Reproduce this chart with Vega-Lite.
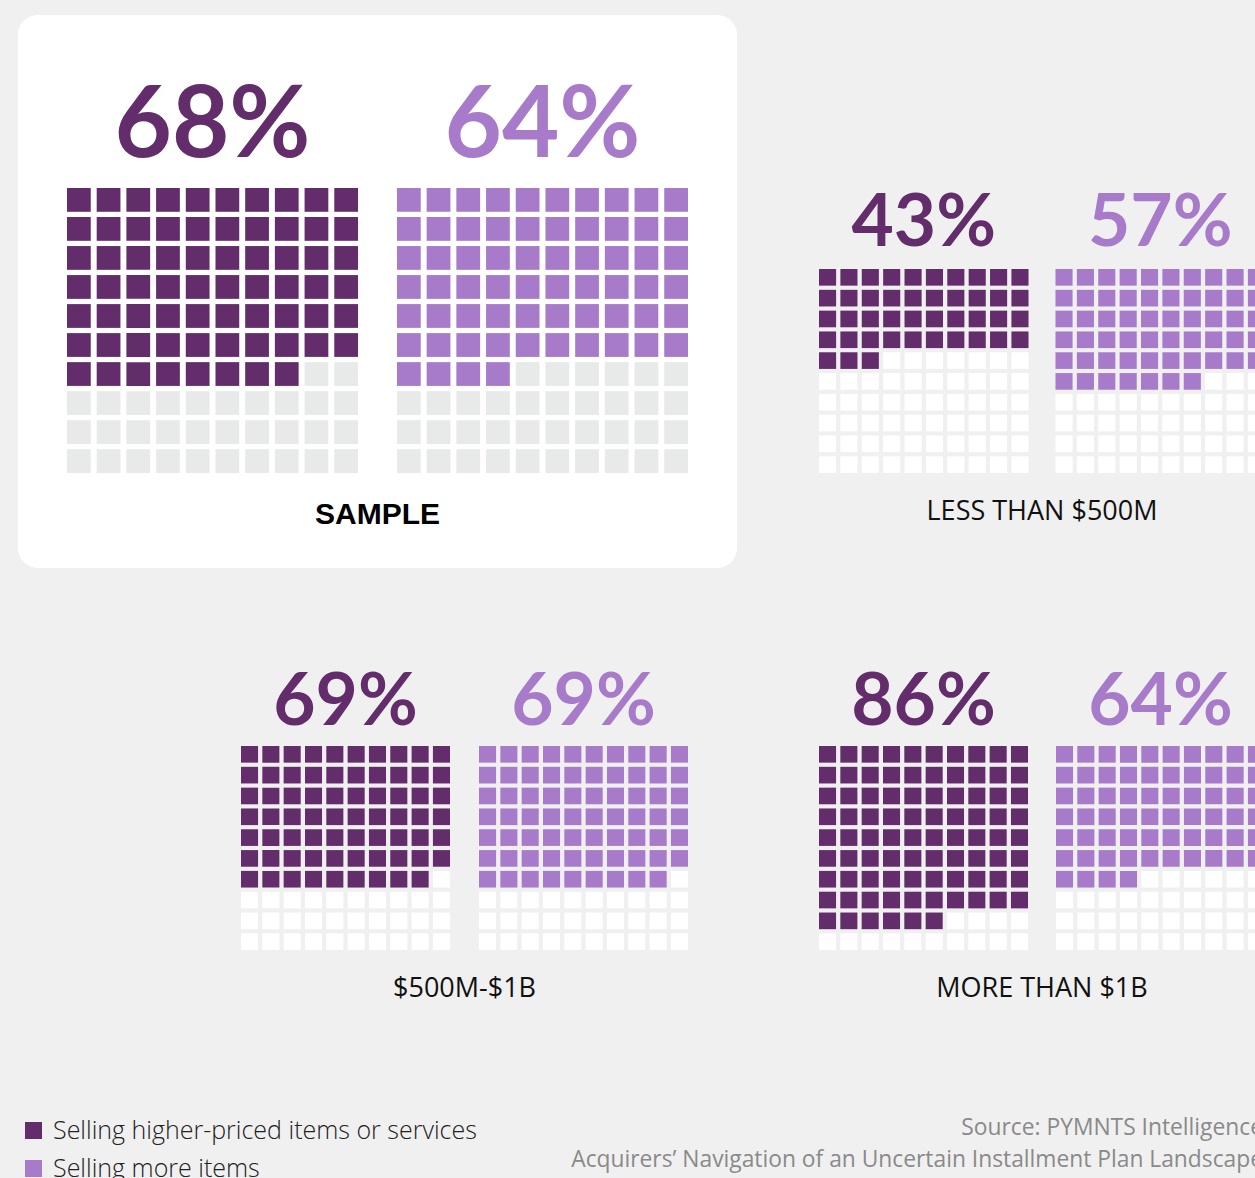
{
"$schema":"https://vega.github.io/schema/vega-lite/v6.json",
"background":"#f0f0f0",
"padding":{"left":18,"top":15,"right":-32,"bottom":-30},
"config":{"view":{"stroke":null}},
"datasets":{
"A":[
{"s":"h","r":0,"c":0,"f":1},{"s":"h","r":0,"c":1,"f":1},{"s":"h","r":0,"c":2,"f":1},{"s":"h","r":0,"c":3,"f":1},{"s":"h","r":0,"c":4,"f":1},{"s":"h","r":0,"c":5,"f":1},{"s":"h","r":0,"c":6,"f":1},{"s":"h","r":0,"c":7,"f":1},{"s":"h","r":0,"c":8,"f":1},{"s":"h","r":0,"c":9,"f":1},
{"s":"h","r":1,"c":0,"f":1},{"s":"h","r":1,"c":1,"f":1},{"s":"h","r":1,"c":2,"f":1},{"s":"h","r":1,"c":3,"f":1},{"s":"h","r":1,"c":4,"f":1},{"s":"h","r":1,"c":5,"f":1},{"s":"h","r":1,"c":6,"f":1},{"s":"h","r":1,"c":7,"f":1},{"s":"h","r":1,"c":8,"f":1},{"s":"h","r":1,"c":9,"f":1},
{"s":"h","r":2,"c":0,"f":1},{"s":"h","r":2,"c":1,"f":1},{"s":"h","r":2,"c":2,"f":1},{"s":"h","r":2,"c":3,"f":1},{"s":"h","r":2,"c":4,"f":1},{"s":"h","r":2,"c":5,"f":1},{"s":"h","r":2,"c":6,"f":1},{"s":"h","r":2,"c":7,"f":1},{"s":"h","r":2,"c":8,"f":1},{"s":"h","r":2,"c":9,"f":1},
{"s":"h","r":3,"c":0,"f":1},{"s":"h","r":3,"c":1,"f":1},{"s":"h","r":3,"c":2,"f":1},{"s":"h","r":3,"c":3,"f":1},{"s":"h","r":3,"c":4,"f":1},{"s":"h","r":3,"c":5,"f":1},{"s":"h","r":3,"c":6,"f":1},{"s":"h","r":3,"c":7,"f":1},{"s":"h","r":3,"c":8,"f":1},{"s":"h","r":3,"c":9,"f":1},
{"s":"h","r":4,"c":0,"f":1},{"s":"h","r":4,"c":1,"f":1},{"s":"h","r":4,"c":2,"f":1},{"s":"h","r":4,"c":3,"f":1},{"s":"h","r":4,"c":4,"f":1},{"s":"h","r":4,"c":5,"f":1},{"s":"h","r":4,"c":6,"f":1},{"s":"h","r":4,"c":7,"f":1},{"s":"h","r":4,"c":8,"f":1},{"s":"h","r":4,"c":9,"f":1},
{"s":"h","r":5,"c":0,"f":1},{"s":"h","r":5,"c":1,"f":1},{"s":"h","r":5,"c":2,"f":1},{"s":"h","r":5,"c":3,"f":1},{"s":"h","r":5,"c":4,"f":1},{"s":"h","r":5,"c":5,"f":1},{"s":"h","r":5,"c":6,"f":1},{"s":"h","r":5,"c":7,"f":1},{"s":"h","r":5,"c":8,"f":1},{"s":"h","r":5,"c":9,"f":1},
{"s":"h","r":6,"c":0,"f":1},{"s":"h","r":6,"c":1,"f":1},{"s":"h","r":6,"c":2,"f":1},{"s":"h","r":6,"c":3,"f":1},{"s":"h","r":6,"c":4,"f":1},{"s":"h","r":6,"c":5,"f":1},{"s":"h","r":6,"c":6,"f":1},{"s":"h","r":6,"c":7,"f":1},{"s":"h","r":6,"c":8,"f":0},{"s":"h","r":6,"c":9,"f":0},
{"s":"h","r":7,"c":0,"f":0},{"s":"h","r":7,"c":1,"f":0},{"s":"h","r":7,"c":2,"f":0},{"s":"h","r":7,"c":3,"f":0},{"s":"h","r":7,"c":4,"f":0},{"s":"h","r":7,"c":5,"f":0},{"s":"h","r":7,"c":6,"f":0},{"s":"h","r":7,"c":7,"f":0},{"s":"h","r":7,"c":8,"f":0},{"s":"h","r":7,"c":9,"f":0},
{"s":"h","r":8,"c":0,"f":0},{"s":"h","r":8,"c":1,"f":0},{"s":"h","r":8,"c":2,"f":0},{"s":"h","r":8,"c":3,"f":0},{"s":"h","r":8,"c":4,"f":0},{"s":"h","r":8,"c":5,"f":0},{"s":"h","r":8,"c":6,"f":0},{"s":"h","r":8,"c":7,"f":0},{"s":"h","r":8,"c":8,"f":0},{"s":"h","r":8,"c":9,"f":0},
{"s":"h","r":9,"c":0,"f":0},{"s":"h","r":9,"c":1,"f":0},{"s":"h","r":9,"c":2,"f":0},{"s":"h","r":9,"c":3,"f":0},{"s":"h","r":9,"c":4,"f":0},{"s":"h","r":9,"c":5,"f":0},{"s":"h","r":9,"c":6,"f":0},{"s":"h","r":9,"c":7,"f":0},{"s":"h","r":9,"c":8,"f":0},{"s":"h","r":9,"c":9,"f":0},
{"s":"m","r":0,"c":0,"f":1},{"s":"m","r":0,"c":1,"f":1},{"s":"m","r":0,"c":2,"f":1},{"s":"m","r":0,"c":3,"f":1},{"s":"m","r":0,"c":4,"f":1},{"s":"m","r":0,"c":5,"f":1},{"s":"m","r":0,"c":6,"f":1},{"s":"m","r":0,"c":7,"f":1},{"s":"m","r":0,"c":8,"f":1},{"s":"m","r":0,"c":9,"f":1},
{"s":"m","r":1,"c":0,"f":1},{"s":"m","r":1,"c":1,"f":1},{"s":"m","r":1,"c":2,"f":1},{"s":"m","r":1,"c":3,"f":1},{"s":"m","r":1,"c":4,"f":1},{"s":"m","r":1,"c":5,"f":1},{"s":"m","r":1,"c":6,"f":1},{"s":"m","r":1,"c":7,"f":1},{"s":"m","r":1,"c":8,"f":1},{"s":"m","r":1,"c":9,"f":1},
{"s":"m","r":2,"c":0,"f":1},{"s":"m","r":2,"c":1,"f":1},{"s":"m","r":2,"c":2,"f":1},{"s":"m","r":2,"c":3,"f":1},{"s":"m","r":2,"c":4,"f":1},{"s":"m","r":2,"c":5,"f":1},{"s":"m","r":2,"c":6,"f":1},{"s":"m","r":2,"c":7,"f":1},{"s":"m","r":2,"c":8,"f":1},{"s":"m","r":2,"c":9,"f":1},
{"s":"m","r":3,"c":0,"f":1},{"s":"m","r":3,"c":1,"f":1},{"s":"m","r":3,"c":2,"f":1},{"s":"m","r":3,"c":3,"f":1},{"s":"m","r":3,"c":4,"f":1},{"s":"m","r":3,"c":5,"f":1},{"s":"m","r":3,"c":6,"f":1},{"s":"m","r":3,"c":7,"f":1},{"s":"m","r":3,"c":8,"f":1},{"s":"m","r":3,"c":9,"f":1},
{"s":"m","r":4,"c":0,"f":1},{"s":"m","r":4,"c":1,"f":1},{"s":"m","r":4,"c":2,"f":1},{"s":"m","r":4,"c":3,"f":1},{"s":"m","r":4,"c":4,"f":1},{"s":"m","r":4,"c":5,"f":1},{"s":"m","r":4,"c":6,"f":1},{"s":"m","r":4,"c":7,"f":1},{"s":"m","r":4,"c":8,"f":1},{"s":"m","r":4,"c":9,"f":1},
{"s":"m","r":5,"c":0,"f":1},{"s":"m","r":5,"c":1,"f":1},{"s":"m","r":5,"c":2,"f":1},{"s":"m","r":5,"c":3,"f":1},{"s":"m","r":5,"c":4,"f":1},{"s":"m","r":5,"c":5,"f":1},{"s":"m","r":5,"c":6,"f":1},{"s":"m","r":5,"c":7,"f":1},{"s":"m","r":5,"c":8,"f":1},{"s":"m","r":5,"c":9,"f":1},
{"s":"m","r":6,"c":0,"f":1},{"s":"m","r":6,"c":1,"f":1},{"s":"m","r":6,"c":2,"f":1},{"s":"m","r":6,"c":3,"f":1},{"s":"m","r":6,"c":4,"f":0},{"s":"m","r":6,"c":5,"f":0},{"s":"m","r":6,"c":6,"f":0},{"s":"m","r":6,"c":7,"f":0},{"s":"m","r":6,"c":8,"f":0},{"s":"m","r":6,"c":9,"f":0},
{"s":"m","r":7,"c":0,"f":0},{"s":"m","r":7,"c":1,"f":0},{"s":"m","r":7,"c":2,"f":0},{"s":"m","r":7,"c":3,"f":0},{"s":"m","r":7,"c":4,"f":0},{"s":"m","r":7,"c":5,"f":0},{"s":"m","r":7,"c":6,"f":0},{"s":"m","r":7,"c":7,"f":0},{"s":"m","r":7,"c":8,"f":0},{"s":"m","r":7,"c":9,"f":0},
{"s":"m","r":8,"c":0,"f":0},{"s":"m","r":8,"c":1,"f":0},{"s":"m","r":8,"c":2,"f":0},{"s":"m","r":8,"c":3,"f":0},{"s":"m","r":8,"c":4,"f":0},{"s":"m","r":8,"c":5,"f":0},{"s":"m","r":8,"c":6,"f":0},{"s":"m","r":8,"c":7,"f":0},{"s":"m","r":8,"c":8,"f":0},{"s":"m","r":8,"c":9,"f":0},
{"s":"m","r":9,"c":0,"f":0},{"s":"m","r":9,"c":1,"f":0},{"s":"m","r":9,"c":2,"f":0},{"s":"m","r":9,"c":3,"f":0},{"s":"m","r":9,"c":4,"f":0},{"s":"m","r":9,"c":5,"f":0},{"s":"m","r":9,"c":6,"f":0},{"s":"m","r":9,"c":7,"f":0},{"s":"m","r":9,"c":8,"f":0},{"s":"m","r":9,"c":9,"f":0}
],
"B":[
{"s":"h","r":0,"c":0,"f":1},{"s":"h","r":0,"c":1,"f":1},{"s":"h","r":0,"c":2,"f":1},{"s":"h","r":0,"c":3,"f":1},{"s":"h","r":0,"c":4,"f":1},{"s":"h","r":0,"c":5,"f":1},{"s":"h","r":0,"c":6,"f":1},{"s":"h","r":0,"c":7,"f":1},{"s":"h","r":0,"c":8,"f":1},{"s":"h","r":0,"c":9,"f":1},
{"s":"h","r":1,"c":0,"f":1},{"s":"h","r":1,"c":1,"f":1},{"s":"h","r":1,"c":2,"f":1},{"s":"h","r":1,"c":3,"f":1},{"s":"h","r":1,"c":4,"f":1},{"s":"h","r":1,"c":5,"f":1},{"s":"h","r":1,"c":6,"f":1},{"s":"h","r":1,"c":7,"f":1},{"s":"h","r":1,"c":8,"f":1},{"s":"h","r":1,"c":9,"f":1},
{"s":"h","r":2,"c":0,"f":1},{"s":"h","r":2,"c":1,"f":1},{"s":"h","r":2,"c":2,"f":1},{"s":"h","r":2,"c":3,"f":1},{"s":"h","r":2,"c":4,"f":1},{"s":"h","r":2,"c":5,"f":1},{"s":"h","r":2,"c":6,"f":1},{"s":"h","r":2,"c":7,"f":1},{"s":"h","r":2,"c":8,"f":1},{"s":"h","r":2,"c":9,"f":1},
{"s":"h","r":3,"c":0,"f":1},{"s":"h","r":3,"c":1,"f":1},{"s":"h","r":3,"c":2,"f":1},{"s":"h","r":3,"c":3,"f":1},{"s":"h","r":3,"c":4,"f":1},{"s":"h","r":3,"c":5,"f":1},{"s":"h","r":3,"c":6,"f":1},{"s":"h","r":3,"c":7,"f":1},{"s":"h","r":3,"c":8,"f":1},{"s":"h","r":3,"c":9,"f":1},
{"s":"h","r":4,"c":0,"f":1},{"s":"h","r":4,"c":1,"f":1},{"s":"h","r":4,"c":2,"f":1},{"s":"h","r":4,"c":3,"f":0},{"s":"h","r":4,"c":4,"f":0},{"s":"h","r":4,"c":5,"f":0},{"s":"h","r":4,"c":6,"f":0},{"s":"h","r":4,"c":7,"f":0},{"s":"h","r":4,"c":8,"f":0},{"s":"h","r":4,"c":9,"f":0},
{"s":"h","r":5,"c":0,"f":0},{"s":"h","r":5,"c":1,"f":0},{"s":"h","r":5,"c":2,"f":0},{"s":"h","r":5,"c":3,"f":0},{"s":"h","r":5,"c":4,"f":0},{"s":"h","r":5,"c":5,"f":0},{"s":"h","r":5,"c":6,"f":0},{"s":"h","r":5,"c":7,"f":0},{"s":"h","r":5,"c":8,"f":0},{"s":"h","r":5,"c":9,"f":0},
{"s":"h","r":6,"c":0,"f":0},{"s":"h","r":6,"c":1,"f":0},{"s":"h","r":6,"c":2,"f":0},{"s":"h","r":6,"c":3,"f":0},{"s":"h","r":6,"c":4,"f":0},{"s":"h","r":6,"c":5,"f":0},{"s":"h","r":6,"c":6,"f":0},{"s":"h","r":6,"c":7,"f":0},{"s":"h","r":6,"c":8,"f":0},{"s":"h","r":6,"c":9,"f":0},
{"s":"h","r":7,"c":0,"f":0},{"s":"h","r":7,"c":1,"f":0},{"s":"h","r":7,"c":2,"f":0},{"s":"h","r":7,"c":3,"f":0},{"s":"h","r":7,"c":4,"f":0},{"s":"h","r":7,"c":5,"f":0},{"s":"h","r":7,"c":6,"f":0},{"s":"h","r":7,"c":7,"f":0},{"s":"h","r":7,"c":8,"f":0},{"s":"h","r":7,"c":9,"f":0},
{"s":"h","r":8,"c":0,"f":0},{"s":"h","r":8,"c":1,"f":0},{"s":"h","r":8,"c":2,"f":0},{"s":"h","r":8,"c":3,"f":0},{"s":"h","r":8,"c":4,"f":0},{"s":"h","r":8,"c":5,"f":0},{"s":"h","r":8,"c":6,"f":0},{"s":"h","r":8,"c":7,"f":0},{"s":"h","r":8,"c":8,"f":0},{"s":"h","r":8,"c":9,"f":0},
{"s":"h","r":9,"c":0,"f":0},{"s":"h","r":9,"c":1,"f":0},{"s":"h","r":9,"c":2,"f":0},{"s":"h","r":9,"c":3,"f":0},{"s":"h","r":9,"c":4,"f":0},{"s":"h","r":9,"c":5,"f":0},{"s":"h","r":9,"c":6,"f":0},{"s":"h","r":9,"c":7,"f":0},{"s":"h","r":9,"c":8,"f":0},{"s":"h","r":9,"c":9,"f":0},
{"s":"m","r":0,"c":0,"f":1},{"s":"m","r":0,"c":1,"f":1},{"s":"m","r":0,"c":2,"f":1},{"s":"m","r":0,"c":3,"f":1},{"s":"m","r":0,"c":4,"f":1},{"s":"m","r":0,"c":5,"f":1},{"s":"m","r":0,"c":6,"f":1},{"s":"m","r":0,"c":7,"f":1},{"s":"m","r":0,"c":8,"f":1},{"s":"m","r":0,"c":9,"f":1},
{"s":"m","r":1,"c":0,"f":1},{"s":"m","r":1,"c":1,"f":1},{"s":"m","r":1,"c":2,"f":1},{"s":"m","r":1,"c":3,"f":1},{"s":"m","r":1,"c":4,"f":1},{"s":"m","r":1,"c":5,"f":1},{"s":"m","r":1,"c":6,"f":1},{"s":"m","r":1,"c":7,"f":1},{"s":"m","r":1,"c":8,"f":1},{"s":"m","r":1,"c":9,"f":1},
{"s":"m","r":2,"c":0,"f":1},{"s":"m","r":2,"c":1,"f":1},{"s":"m","r":2,"c":2,"f":1},{"s":"m","r":2,"c":3,"f":1},{"s":"m","r":2,"c":4,"f":1},{"s":"m","r":2,"c":5,"f":1},{"s":"m","r":2,"c":6,"f":1},{"s":"m","r":2,"c":7,"f":1},{"s":"m","r":2,"c":8,"f":1},{"s":"m","r":2,"c":9,"f":1},
{"s":"m","r":3,"c":0,"f":1},{"s":"m","r":3,"c":1,"f":1},{"s":"m","r":3,"c":2,"f":1},{"s":"m","r":3,"c":3,"f":1},{"s":"m","r":3,"c":4,"f":1},{"s":"m","r":3,"c":5,"f":1},{"s":"m","r":3,"c":6,"f":1},{"s":"m","r":3,"c":7,"f":1},{"s":"m","r":3,"c":8,"f":1},{"s":"m","r":3,"c":9,"f":1},
{"s":"m","r":4,"c":0,"f":1},{"s":"m","r":4,"c":1,"f":1},{"s":"m","r":4,"c":2,"f":1},{"s":"m","r":4,"c":3,"f":1},{"s":"m","r":4,"c":4,"f":1},{"s":"m","r":4,"c":5,"f":1},{"s":"m","r":4,"c":6,"f":1},{"s":"m","r":4,"c":7,"f":1},{"s":"m","r":4,"c":8,"f":1},{"s":"m","r":4,"c":9,"f":1},
{"s":"m","r":5,"c":0,"f":1},{"s":"m","r":5,"c":1,"f":1},{"s":"m","r":5,"c":2,"f":1},{"s":"m","r":5,"c":3,"f":1},{"s":"m","r":5,"c":4,"f":1},{"s":"m","r":5,"c":5,"f":1},{"s":"m","r":5,"c":6,"f":1},{"s":"m","r":5,"c":7,"f":0},{"s":"m","r":5,"c":8,"f":0},{"s":"m","r":5,"c":9,"f":0},
{"s":"m","r":6,"c":0,"f":0},{"s":"m","r":6,"c":1,"f":0},{"s":"m","r":6,"c":2,"f":0},{"s":"m","r":6,"c":3,"f":0},{"s":"m","r":6,"c":4,"f":0},{"s":"m","r":6,"c":5,"f":0},{"s":"m","r":6,"c":6,"f":0},{"s":"m","r":6,"c":7,"f":0},{"s":"m","r":6,"c":8,"f":0},{"s":"m","r":6,"c":9,"f":0},
{"s":"m","r":7,"c":0,"f":0},{"s":"m","r":7,"c":1,"f":0},{"s":"m","r":7,"c":2,"f":0},{"s":"m","r":7,"c":3,"f":0},{"s":"m","r":7,"c":4,"f":0},{"s":"m","r":7,"c":5,"f":0},{"s":"m","r":7,"c":6,"f":0},{"s":"m","r":7,"c":7,"f":0},{"s":"m","r":7,"c":8,"f":0},{"s":"m","r":7,"c":9,"f":0},
{"s":"m","r":8,"c":0,"f":0},{"s":"m","r":8,"c":1,"f":0},{"s":"m","r":8,"c":2,"f":0},{"s":"m","r":8,"c":3,"f":0},{"s":"m","r":8,"c":4,"f":0},{"s":"m","r":8,"c":5,"f":0},{"s":"m","r":8,"c":6,"f":0},{"s":"m","r":8,"c":7,"f":0},{"s":"m","r":8,"c":8,"f":0},{"s":"m","r":8,"c":9,"f":0},
{"s":"m","r":9,"c":0,"f":0},{"s":"m","r":9,"c":1,"f":0},{"s":"m","r":9,"c":2,"f":0},{"s":"m","r":9,"c":3,"f":0},{"s":"m","r":9,"c":4,"f":0},{"s":"m","r":9,"c":5,"f":0},{"s":"m","r":9,"c":6,"f":0},{"s":"m","r":9,"c":7,"f":0},{"s":"m","r":9,"c":8,"f":0},{"s":"m","r":9,"c":9,"f":0}
],
"C":[
{"s":"h","r":0,"c":0,"f":1},{"s":"h","r":0,"c":1,"f":1},{"s":"h","r":0,"c":2,"f":1},{"s":"h","r":0,"c":3,"f":1},{"s":"h","r":0,"c":4,"f":1},{"s":"h","r":0,"c":5,"f":1},{"s":"h","r":0,"c":6,"f":1},{"s":"h","r":0,"c":7,"f":1},{"s":"h","r":0,"c":8,"f":1},{"s":"h","r":0,"c":9,"f":1},
{"s":"h","r":1,"c":0,"f":1},{"s":"h","r":1,"c":1,"f":1},{"s":"h","r":1,"c":2,"f":1},{"s":"h","r":1,"c":3,"f":1},{"s":"h","r":1,"c":4,"f":1},{"s":"h","r":1,"c":5,"f":1},{"s":"h","r":1,"c":6,"f":1},{"s":"h","r":1,"c":7,"f":1},{"s":"h","r":1,"c":8,"f":1},{"s":"h","r":1,"c":9,"f":1},
{"s":"h","r":2,"c":0,"f":1},{"s":"h","r":2,"c":1,"f":1},{"s":"h","r":2,"c":2,"f":1},{"s":"h","r":2,"c":3,"f":1},{"s":"h","r":2,"c":4,"f":1},{"s":"h","r":2,"c":5,"f":1},{"s":"h","r":2,"c":6,"f":1},{"s":"h","r":2,"c":7,"f":1},{"s":"h","r":2,"c":8,"f":1},{"s":"h","r":2,"c":9,"f":1},
{"s":"h","r":3,"c":0,"f":1},{"s":"h","r":3,"c":1,"f":1},{"s":"h","r":3,"c":2,"f":1},{"s":"h","r":3,"c":3,"f":1},{"s":"h","r":3,"c":4,"f":1},{"s":"h","r":3,"c":5,"f":1},{"s":"h","r":3,"c":6,"f":1},{"s":"h","r":3,"c":7,"f":1},{"s":"h","r":3,"c":8,"f":1},{"s":"h","r":3,"c":9,"f":1},
{"s":"h","r":4,"c":0,"f":1},{"s":"h","r":4,"c":1,"f":1},{"s":"h","r":4,"c":2,"f":1},{"s":"h","r":4,"c":3,"f":1},{"s":"h","r":4,"c":4,"f":1},{"s":"h","r":4,"c":5,"f":1},{"s":"h","r":4,"c":6,"f":1},{"s":"h","r":4,"c":7,"f":1},{"s":"h","r":4,"c":8,"f":1},{"s":"h","r":4,"c":9,"f":1},
{"s":"h","r":5,"c":0,"f":1},{"s":"h","r":5,"c":1,"f":1},{"s":"h","r":5,"c":2,"f":1},{"s":"h","r":5,"c":3,"f":1},{"s":"h","r":5,"c":4,"f":1},{"s":"h","r":5,"c":5,"f":1},{"s":"h","r":5,"c":6,"f":1},{"s":"h","r":5,"c":7,"f":1},{"s":"h","r":5,"c":8,"f":1},{"s":"h","r":5,"c":9,"f":1},
{"s":"h","r":6,"c":0,"f":1},{"s":"h","r":6,"c":1,"f":1},{"s":"h","r":6,"c":2,"f":1},{"s":"h","r":6,"c":3,"f":1},{"s":"h","r":6,"c":4,"f":1},{"s":"h","r":6,"c":5,"f":1},{"s":"h","r":6,"c":6,"f":1},{"s":"h","r":6,"c":7,"f":1},{"s":"h","r":6,"c":8,"f":1},{"s":"h","r":6,"c":9,"f":0},
{"s":"h","r":7,"c":0,"f":0},{"s":"h","r":7,"c":1,"f":0},{"s":"h","r":7,"c":2,"f":0},{"s":"h","r":7,"c":3,"f":0},{"s":"h","r":7,"c":4,"f":0},{"s":"h","r":7,"c":5,"f":0},{"s":"h","r":7,"c":6,"f":0},{"s":"h","r":7,"c":7,"f":0},{"s":"h","r":7,"c":8,"f":0},{"s":"h","r":7,"c":9,"f":0},
{"s":"h","r":8,"c":0,"f":0},{"s":"h","r":8,"c":1,"f":0},{"s":"h","r":8,"c":2,"f":0},{"s":"h","r":8,"c":3,"f":0},{"s":"h","r":8,"c":4,"f":0},{"s":"h","r":8,"c":5,"f":0},{"s":"h","r":8,"c":6,"f":0},{"s":"h","r":8,"c":7,"f":0},{"s":"h","r":8,"c":8,"f":0},{"s":"h","r":8,"c":9,"f":0},
{"s":"h","r":9,"c":0,"f":0},{"s":"h","r":9,"c":1,"f":0},{"s":"h","r":9,"c":2,"f":0},{"s":"h","r":9,"c":3,"f":0},{"s":"h","r":9,"c":4,"f":0},{"s":"h","r":9,"c":5,"f":0},{"s":"h","r":9,"c":6,"f":0},{"s":"h","r":9,"c":7,"f":0},{"s":"h","r":9,"c":8,"f":0},{"s":"h","r":9,"c":9,"f":0},
{"s":"m","r":0,"c":0,"f":1},{"s":"m","r":0,"c":1,"f":1},{"s":"m","r":0,"c":2,"f":1},{"s":"m","r":0,"c":3,"f":1},{"s":"m","r":0,"c":4,"f":1},{"s":"m","r":0,"c":5,"f":1},{"s":"m","r":0,"c":6,"f":1},{"s":"m","r":0,"c":7,"f":1},{"s":"m","r":0,"c":8,"f":1},{"s":"m","r":0,"c":9,"f":1},
{"s":"m","r":1,"c":0,"f":1},{"s":"m","r":1,"c":1,"f":1},{"s":"m","r":1,"c":2,"f":1},{"s":"m","r":1,"c":3,"f":1},{"s":"m","r":1,"c":4,"f":1},{"s":"m","r":1,"c":5,"f":1},{"s":"m","r":1,"c":6,"f":1},{"s":"m","r":1,"c":7,"f":1},{"s":"m","r":1,"c":8,"f":1},{"s":"m","r":1,"c":9,"f":1},
{"s":"m","r":2,"c":0,"f":1},{"s":"m","r":2,"c":1,"f":1},{"s":"m","r":2,"c":2,"f":1},{"s":"m","r":2,"c":3,"f":1},{"s":"m","r":2,"c":4,"f":1},{"s":"m","r":2,"c":5,"f":1},{"s":"m","r":2,"c":6,"f":1},{"s":"m","r":2,"c":7,"f":1},{"s":"m","r":2,"c":8,"f":1},{"s":"m","r":2,"c":9,"f":1},
{"s":"m","r":3,"c":0,"f":1},{"s":"m","r":3,"c":1,"f":1},{"s":"m","r":3,"c":2,"f":1},{"s":"m","r":3,"c":3,"f":1},{"s":"m","r":3,"c":4,"f":1},{"s":"m","r":3,"c":5,"f":1},{"s":"m","r":3,"c":6,"f":1},{"s":"m","r":3,"c":7,"f":1},{"s":"m","r":3,"c":8,"f":1},{"s":"m","r":3,"c":9,"f":1},
{"s":"m","r":4,"c":0,"f":1},{"s":"m","r":4,"c":1,"f":1},{"s":"m","r":4,"c":2,"f":1},{"s":"m","r":4,"c":3,"f":1},{"s":"m","r":4,"c":4,"f":1},{"s":"m","r":4,"c":5,"f":1},{"s":"m","r":4,"c":6,"f":1},{"s":"m","r":4,"c":7,"f":1},{"s":"m","r":4,"c":8,"f":1},{"s":"m","r":4,"c":9,"f":1},
{"s":"m","r":5,"c":0,"f":1},{"s":"m","r":5,"c":1,"f":1},{"s":"m","r":5,"c":2,"f":1},{"s":"m","r":5,"c":3,"f":1},{"s":"m","r":5,"c":4,"f":1},{"s":"m","r":5,"c":5,"f":1},{"s":"m","r":5,"c":6,"f":1},{"s":"m","r":5,"c":7,"f":1},{"s":"m","r":5,"c":8,"f":1},{"s":"m","r":5,"c":9,"f":1},
{"s":"m","r":6,"c":0,"f":1},{"s":"m","r":6,"c":1,"f":1},{"s":"m","r":6,"c":2,"f":1},{"s":"m","r":6,"c":3,"f":1},{"s":"m","r":6,"c":4,"f":1},{"s":"m","r":6,"c":5,"f":1},{"s":"m","r":6,"c":6,"f":1},{"s":"m","r":6,"c":7,"f":1},{"s":"m","r":6,"c":8,"f":1},{"s":"m","r":6,"c":9,"f":0},
{"s":"m","r":7,"c":0,"f":0},{"s":"m","r":7,"c":1,"f":0},{"s":"m","r":7,"c":2,"f":0},{"s":"m","r":7,"c":3,"f":0},{"s":"m","r":7,"c":4,"f":0},{"s":"m","r":7,"c":5,"f":0},{"s":"m","r":7,"c":6,"f":0},{"s":"m","r":7,"c":7,"f":0},{"s":"m","r":7,"c":8,"f":0},{"s":"m","r":7,"c":9,"f":0},
{"s":"m","r":8,"c":0,"f":0},{"s":"m","r":8,"c":1,"f":0},{"s":"m","r":8,"c":2,"f":0},{"s":"m","r":8,"c":3,"f":0},{"s":"m","r":8,"c":4,"f":0},{"s":"m","r":8,"c":5,"f":0},{"s":"m","r":8,"c":6,"f":0},{"s":"m","r":8,"c":7,"f":0},{"s":"m","r":8,"c":8,"f":0},{"s":"m","r":8,"c":9,"f":0},
{"s":"m","r":9,"c":0,"f":0},{"s":"m","r":9,"c":1,"f":0},{"s":"m","r":9,"c":2,"f":0},{"s":"m","r":9,"c":3,"f":0},{"s":"m","r":9,"c":4,"f":0},{"s":"m","r":9,"c":5,"f":0},{"s":"m","r":9,"c":6,"f":0},{"s":"m","r":9,"c":7,"f":0},{"s":"m","r":9,"c":8,"f":0},{"s":"m","r":9,"c":9,"f":0}
],
"D":[
{"s":"h","r":0,"c":0,"f":1},{"s":"h","r":0,"c":1,"f":1},{"s":"h","r":0,"c":2,"f":1},{"s":"h","r":0,"c":3,"f":1},{"s":"h","r":0,"c":4,"f":1},{"s":"h","r":0,"c":5,"f":1},{"s":"h","r":0,"c":6,"f":1},{"s":"h","r":0,"c":7,"f":1},{"s":"h","r":0,"c":8,"f":1},{"s":"h","r":0,"c":9,"f":1},
{"s":"h","r":1,"c":0,"f":1},{"s":"h","r":1,"c":1,"f":1},{"s":"h","r":1,"c":2,"f":1},{"s":"h","r":1,"c":3,"f":1},{"s":"h","r":1,"c":4,"f":1},{"s":"h","r":1,"c":5,"f":1},{"s":"h","r":1,"c":6,"f":1},{"s":"h","r":1,"c":7,"f":1},{"s":"h","r":1,"c":8,"f":1},{"s":"h","r":1,"c":9,"f":1},
{"s":"h","r":2,"c":0,"f":1},{"s":"h","r":2,"c":1,"f":1},{"s":"h","r":2,"c":2,"f":1},{"s":"h","r":2,"c":3,"f":1},{"s":"h","r":2,"c":4,"f":1},{"s":"h","r":2,"c":5,"f":1},{"s":"h","r":2,"c":6,"f":1},{"s":"h","r":2,"c":7,"f":1},{"s":"h","r":2,"c":8,"f":1},{"s":"h","r":2,"c":9,"f":1},
{"s":"h","r":3,"c":0,"f":1},{"s":"h","r":3,"c":1,"f":1},{"s":"h","r":3,"c":2,"f":1},{"s":"h","r":3,"c":3,"f":1},{"s":"h","r":3,"c":4,"f":1},{"s":"h","r":3,"c":5,"f":1},{"s":"h","r":3,"c":6,"f":1},{"s":"h","r":3,"c":7,"f":1},{"s":"h","r":3,"c":8,"f":1},{"s":"h","r":3,"c":9,"f":1},
{"s":"h","r":4,"c":0,"f":1},{"s":"h","r":4,"c":1,"f":1},{"s":"h","r":4,"c":2,"f":1},{"s":"h","r":4,"c":3,"f":1},{"s":"h","r":4,"c":4,"f":1},{"s":"h","r":4,"c":5,"f":1},{"s":"h","r":4,"c":6,"f":1},{"s":"h","r":4,"c":7,"f":1},{"s":"h","r":4,"c":8,"f":1},{"s":"h","r":4,"c":9,"f":1},
{"s":"h","r":5,"c":0,"f":1},{"s":"h","r":5,"c":1,"f":1},{"s":"h","r":5,"c":2,"f":1},{"s":"h","r":5,"c":3,"f":1},{"s":"h","r":5,"c":4,"f":1},{"s":"h","r":5,"c":5,"f":1},{"s":"h","r":5,"c":6,"f":1},{"s":"h","r":5,"c":7,"f":1},{"s":"h","r":5,"c":8,"f":1},{"s":"h","r":5,"c":9,"f":1},
{"s":"h","r":6,"c":0,"f":1},{"s":"h","r":6,"c":1,"f":1},{"s":"h","r":6,"c":2,"f":1},{"s":"h","r":6,"c":3,"f":1},{"s":"h","r":6,"c":4,"f":1},{"s":"h","r":6,"c":5,"f":1},{"s":"h","r":6,"c":6,"f":1},{"s":"h","r":6,"c":7,"f":1},{"s":"h","r":6,"c":8,"f":1},{"s":"h","r":6,"c":9,"f":1},
{"s":"h","r":7,"c":0,"f":1},{"s":"h","r":7,"c":1,"f":1},{"s":"h","r":7,"c":2,"f":1},{"s":"h","r":7,"c":3,"f":1},{"s":"h","r":7,"c":4,"f":1},{"s":"h","r":7,"c":5,"f":1},{"s":"h","r":7,"c":6,"f":1},{"s":"h","r":7,"c":7,"f":1},{"s":"h","r":7,"c":8,"f":1},{"s":"h","r":7,"c":9,"f":1},
{"s":"h","r":8,"c":0,"f":1},{"s":"h","r":8,"c":1,"f":1},{"s":"h","r":8,"c":2,"f":1},{"s":"h","r":8,"c":3,"f":1},{"s":"h","r":8,"c":4,"f":1},{"s":"h","r":8,"c":5,"f":1},{"s":"h","r":8,"c":6,"f":0},{"s":"h","r":8,"c":7,"f":0},{"s":"h","r":8,"c":8,"f":0},{"s":"h","r":8,"c":9,"f":0},
{"s":"h","r":9,"c":0,"f":0},{"s":"h","r":9,"c":1,"f":0},{"s":"h","r":9,"c":2,"f":0},{"s":"h","r":9,"c":3,"f":0},{"s":"h","r":9,"c":4,"f":0},{"s":"h","r":9,"c":5,"f":0},{"s":"h","r":9,"c":6,"f":0},{"s":"h","r":9,"c":7,"f":0},{"s":"h","r":9,"c":8,"f":0},{"s":"h","r":9,"c":9,"f":0},
{"s":"m","r":0,"c":0,"f":1},{"s":"m","r":0,"c":1,"f":1},{"s":"m","r":0,"c":2,"f":1},{"s":"m","r":0,"c":3,"f":1},{"s":"m","r":0,"c":4,"f":1},{"s":"m","r":0,"c":5,"f":1},{"s":"m","r":0,"c":6,"f":1},{"s":"m","r":0,"c":7,"f":1},{"s":"m","r":0,"c":8,"f":1},{"s":"m","r":0,"c":9,"f":1},
{"s":"m","r":1,"c":0,"f":1},{"s":"m","r":1,"c":1,"f":1},{"s":"m","r":1,"c":2,"f":1},{"s":"m","r":1,"c":3,"f":1},{"s":"m","r":1,"c":4,"f":1},{"s":"m","r":1,"c":5,"f":1},{"s":"m","r":1,"c":6,"f":1},{"s":"m","r":1,"c":7,"f":1},{"s":"m","r":1,"c":8,"f":1},{"s":"m","r":1,"c":9,"f":1},
{"s":"m","r":2,"c":0,"f":1},{"s":"m","r":2,"c":1,"f":1},{"s":"m","r":2,"c":2,"f":1},{"s":"m","r":2,"c":3,"f":1},{"s":"m","r":2,"c":4,"f":1},{"s":"m","r":2,"c":5,"f":1},{"s":"m","r":2,"c":6,"f":1},{"s":"m","r":2,"c":7,"f":1},{"s":"m","r":2,"c":8,"f":1},{"s":"m","r":2,"c":9,"f":1},
{"s":"m","r":3,"c":0,"f":1},{"s":"m","r":3,"c":1,"f":1},{"s":"m","r":3,"c":2,"f":1},{"s":"m","r":3,"c":3,"f":1},{"s":"m","r":3,"c":4,"f":1},{"s":"m","r":3,"c":5,"f":1},{"s":"m","r":3,"c":6,"f":1},{"s":"m","r":3,"c":7,"f":1},{"s":"m","r":3,"c":8,"f":1},{"s":"m","r":3,"c":9,"f":1},
{"s":"m","r":4,"c":0,"f":1},{"s":"m","r":4,"c":1,"f":1},{"s":"m","r":4,"c":2,"f":1},{"s":"m","r":4,"c":3,"f":1},{"s":"m","r":4,"c":4,"f":1},{"s":"m","r":4,"c":5,"f":1},{"s":"m","r":4,"c":6,"f":1},{"s":"m","r":4,"c":7,"f":1},{"s":"m","r":4,"c":8,"f":1},{"s":"m","r":4,"c":9,"f":1},
{"s":"m","r":5,"c":0,"f":1},{"s":"m","r":5,"c":1,"f":1},{"s":"m","r":5,"c":2,"f":1},{"s":"m","r":5,"c":3,"f":1},{"s":"m","r":5,"c":4,"f":1},{"s":"m","r":5,"c":5,"f":1},{"s":"m","r":5,"c":6,"f":1},{"s":"m","r":5,"c":7,"f":1},{"s":"m","r":5,"c":8,"f":1},{"s":"m","r":5,"c":9,"f":1},
{"s":"m","r":6,"c":0,"f":1},{"s":"m","r":6,"c":1,"f":1},{"s":"m","r":6,"c":2,"f":1},{"s":"m","r":6,"c":3,"f":1},{"s":"m","r":6,"c":4,"f":0},{"s":"m","r":6,"c":5,"f":0},{"s":"m","r":6,"c":6,"f":0},{"s":"m","r":6,"c":7,"f":0},{"s":"m","r":6,"c":8,"f":0},{"s":"m","r":6,"c":9,"f":0},
{"s":"m","r":7,"c":0,"f":0},{"s":"m","r":7,"c":1,"f":0},{"s":"m","r":7,"c":2,"f":0},{"s":"m","r":7,"c":3,"f":0},{"s":"m","r":7,"c":4,"f":0},{"s":"m","r":7,"c":5,"f":0},{"s":"m","r":7,"c":6,"f":0},{"s":"m","r":7,"c":7,"f":0},{"s":"m","r":7,"c":8,"f":0},{"s":"m","r":7,"c":9,"f":0},
{"s":"m","r":8,"c":0,"f":0},{"s":"m","r":8,"c":1,"f":0},{"s":"m","r":8,"c":2,"f":0},{"s":"m","r":8,"c":3,"f":0},{"s":"m","r":8,"c":4,"f":0},{"s":"m","r":8,"c":5,"f":0},{"s":"m","r":8,"c":6,"f":0},{"s":"m","r":8,"c":7,"f":0},{"s":"m","r":8,"c":8,"f":0},{"s":"m","r":8,"c":9,"f":0},
{"s":"m","r":9,"c":0,"f":0},{"s":"m","r":9,"c":1,"f":0},{"s":"m","r":9,"c":2,"f":0},{"s":"m","r":9,"c":3,"f":0},{"s":"m","r":9,"c":4,"f":0},{"s":"m","r":9,"c":5,"f":0},{"s":"m","r":9,"c":6,"f":0},{"s":"m","r":9,"c":7,"f":0},{"s":"m","r":9,"c":8,"f":0},{"s":"m","r":9,"c":9,"f":0}
],
"Ap":[{"s":"h","v":0.68},{"s":"m","v":0.64}],
"Bp":[{"s":"h","v":0.43},{"s":"m","v":0.57}],
"Cp":[{"s":"h","v":0.69},{"s":"m","v":0.69}],
"Dp":[{"s":"h","v":0.86},{"s":"m","v":0.64}],
"src":[{"i":0,"t":"Source: PYMNTS Intelligence"},{"i":1,"t":"Acquirers’ Navigation of an Uncertain Installment Plan Landscape"}]
},
"spacing":30,
"resolve":{"scale":{"xOffset":"independent"}},
"vconcat":[
{"hconcat":[
{"width":719,"height":553,"view":{"fill":"#ffffff","cornerRadius":20,"stroke":null},
"layer":[
{"data":{"name":"A"},"mark":{"type":"rect"},
"encoding":{
"x":{"field":"s","type":"nominal","scale":{"domain":["h","m"],"range":[49,670],"paddingInner":0.118,"paddingOuter":0},"axis":null},
"xOffset":{"field":"c","type":"ordinal","scale":{"paddingInner":0.2,"paddingOuter":0}},
"y":{"field":"r","type":"ordinal","scale":{"range":[173,458],"paddingInner":0.18,"paddingOuter":0},"axis":null},
"color":{"condition":{"test":"datum.f == 0","value":"#e8e9e9"},"field":"s","type":"nominal","scale":{"domain":["h","m"],"range":["#632d6c","#a77bca"]},
"legend":{"orient":"none","legendX":3,"legendY":1103,"title":null,"direction":"vertical","symbolType":"square","symbolSize":289,"symbolStrokeWidth":0,"symbolOpacity":1,"labelFont":"Open Sans","labelFontWeight":300,"labelFontSize":25,"labelColor":"#222222","labelOffset":7,"rowPadding":12,"padding":0,"labelLimit":0,"labelExpr":"datum.value == 'h' ? 'Selling higher-priced items or services' : 'Selling more items'","encode":{"symbols":{"update":{"fill":{"signal":"datum.value == 'h' ? '#45195a' : '#a77bca'"}}}}}}
}},
{"data":{"name":"Ap"},"mark":{"type":"text","font":"Lato","fontWeight":700,"fontSize":99,"baseline":"alphabetic","dy":-31},
"encoding":{"x":{"field":"s","type":"nominal","bandPosition":0.5},"y":{"datum":0,"type":"ordinal","bandPosition":0},"text":{"field":"v","type":"quantitative","format":".0%"},
"fill":{"condition":{"test":"datum.s == 'h'","value":"#632d6c"},"value":"#a77bca"}}},
{"data":{"values":[{"t":"SAMPLE"}]},"mark":{"type":"text","font":"Liberation Sans","fontWeight":"bold","fontSize":30,"baseline":"middle","dy":42,"fill":"#000000"},
"encoding":{"text":{"field":"t"},"y":{"datum":9,"type":"ordinal","bandPosition":1}}}
]},
{"width":490,"height":553,
"layer":[
{"data":{"name":"B"},"mark":{"type":"rect"},
"encoding":{
"x":{"field":"s","type":"nominal","scale":{"domain":["h","m"],"range":[22,468],"paddingInner":0.114,"paddingOuter":0},"axis":null},
"xOffset":{"field":"c","type":"ordinal","scale":{"paddingInner":0.2,"paddingOuter":0}},
"y":{"field":"r","type":"ordinal","scale":{"range":[254,458],"paddingInner":0.2,"paddingOuter":0},"axis":null},
"color":{"condition":{"test":"datum.f == 0","value":"#ffffff"},"field":"s","type":"nominal","scale":{"domain":["h","m"],"range":["#632d6c","#a77bca"]},
"legend":{"orient":"none","legendX":3,"legendY":1103,"title":null,"direction":"vertical","symbolType":"square","symbolSize":289,"symbolStrokeWidth":0,"symbolOpacity":1,"labelFont":"Open Sans","labelFontWeight":300,"labelFontSize":25,"labelColor":"#222222","labelOffset":7,"rowPadding":12,"padding":0,"labelLimit":0,"labelExpr":"datum.value == 'h' ? 'Selling higher-priced items or services' : 'Selling more items'","encode":{"symbols":{"update":{"fill":{"signal":"datum.value == 'h' ? '#45195a' : '#a77bca'"}}}}}}
}},
{"data":{"name":"Bp"},"mark":{"type":"text","font":"Lato","fontWeight":700,"fontSize":73,"baseline":"alphabetic","dy":-23},
"encoding":{"x":{"field":"s","type":"nominal","bandPosition":0.5},"y":{"datum":0,"type":"ordinal","bandPosition":0},"text":{"field":"v","type":"quantitative","format":".0%"},
"fill":{"condition":{"test":"datum.s == 'h'","value":"#632d6c"},"value":"#a77bca"}}},
{"data":{"values":[{"t":"LESS THAN $500M"}]},"mark":{"type":"text","font":"Open Sans","fontSize":27,"baseline":"middle","dy":39,"fill":"#111111"},
"encoding":{"text":{"field":"t"},"y":{"datum":9,"type":"ordinal","bandPosition":1}}}
]}
],"spacing":60,"resolve":{"scale":{"xOffset":"independent"}}},
{"hconcat":[
{"width":691,"height":420,
"layer":[
{"data":{"name":"C"},"mark":{"type":"rect"},
"encoding":{
"x":{"field":"s","type":"nominal","scale":{"domain":["h","m"],"range":[223,670],"paddingInner":0.122,"paddingOuter":0},"axis":null},
"xOffset":{"field":"c","type":"ordinal","scale":{"paddingInner":0.2,"paddingOuter":0}},
"y":{"field":"r","type":"ordinal","scale":{"range":[148,352],"paddingInner":0.2,"paddingOuter":0},"axis":null},
"color":{"condition":{"test":"datum.f == 0","value":"#ffffff"},"field":"s","type":"nominal","scale":{"domain":["h","m"],"range":["#632d6c","#a77bca"]},
"legend":{"orient":"none","legendX":3,"legendY":1103,"title":null,"direction":"vertical","symbolType":"square","symbolSize":289,"symbolStrokeWidth":0,"symbolOpacity":1,"labelFont":"Open Sans","labelFontWeight":300,"labelFontSize":25,"labelColor":"#222222","labelOffset":7,"rowPadding":12,"padding":0,"labelLimit":0,"labelExpr":"datum.value == 'h' ? 'Selling higher-priced items or services' : 'Selling more items'","encode":{"symbols":{"update":{"fill":{"signal":"datum.value == 'h' ? '#45195a' : '#a77bca'"}}}}}}
}},
{"data":{"name":"Cp"},"mark":{"type":"text","font":"Lato","fontWeight":700,"fontSize":73,"baseline":"alphabetic","dy":-21},
"encoding":{"x":{"field":"s","type":"nominal","bandPosition":0.5},"y":{"datum":0,"type":"ordinal","bandPosition":0},"text":{"field":"v","type":"quantitative","format":".0%"},
"fill":{"condition":{"test":"datum.s == 'h'","value":"#632d6c"},"value":"#a77bca"}}},
{"data":{"values":[{"t":"$500M-$1B"}]},"mark":{"type":"text","font":"Open Sans","fontSize":27,"baseline":"middle","dy":39,"dx":-14.5,"fill":"#111111"},
"encoding":{"text":{"field":"t"},"x":{"datum":"m","type":"nominal","bandPosition":0},"y":{"datum":9,"type":"ordinal","bandPosition":1}}}
]},
{"width":490,"height":420,
"layer":[
{"data":{"name":"D"},"mark":{"type":"rect"},
"encoding":{
"x":{"field":"s","type":"nominal","scale":{"domain":["h","m"],"range":[22,468],"paddingInner":0.118,"paddingOuter":0},"axis":null},
"xOffset":{"field":"c","type":"ordinal","scale":{"paddingInner":0.2,"paddingOuter":0}},
"y":{"field":"r","type":"ordinal","scale":{"range":[148,352],"paddingInner":0.2,"paddingOuter":0},"axis":null},
"color":{"condition":{"test":"datum.f == 0","value":"#ffffff"},"field":"s","type":"nominal","scale":{"domain":["h","m"],"range":["#632d6c","#a77bca"]},
"legend":{"orient":"none","legendX":3,"legendY":1103,"title":null,"direction":"vertical","symbolType":"square","symbolSize":289,"symbolStrokeWidth":0,"symbolOpacity":1,"labelFont":"Open Sans","labelFontWeight":300,"labelFontSize":25,"labelColor":"#222222","labelOffset":7,"rowPadding":12,"padding":0,"labelLimit":0,"labelExpr":"datum.value == 'h' ? 'Selling higher-priced items or services' : 'Selling more items'","encode":{"symbols":{"update":{"fill":{"signal":"datum.value == 'h' ? '#45195a' : '#a77bca'"}}}}}}
}},
{"data":{"name":"Dp"},"mark":{"type":"text","font":"Lato","fontWeight":700,"fontSize":73,"baseline":"alphabetic","dy":-21},
"encoding":{"x":{"field":"s","type":"nominal","bandPosition":0.5},"y":{"datum":0,"type":"ordinal","bandPosition":0},"text":{"field":"v","type":"quantitative","format":".0%"},
"fill":{"condition":{"test":"datum.s == 'h'","value":"#632d6c"},"value":"#a77bca"}}},
{"data":{"values":[{"t":"MORE THAN $1B"}]},"mark":{"type":"text","font":"Open Sans","fontSize":27,"baseline":"middle","dy":39,"fill":"#111111"},
"encoding":{"text":{"field":"t"},"y":{"datum":9,"type":"ordinal","bandPosition":1}}}
]}
],"spacing":88,"resolve":{"scale":{"xOffset":"independent"}}},
{"width":1245,"height":160,
"data":{"name":"src"},
"mark":{"type":"text","align":"right","baseline":"middle","font":"Open Sans","fontSize":22.8,"fill":"#8a8a8a"},
"encoding":{
"x":{"datum":1,"type":"quantitative","scale":{"domain":[0,1],"nice":false,"zero":false},"axis":null},
"y":{"field":"i","type":"ordinal","bandPosition":0.5,"scale":{"range":[64,128],"paddingInner":0,"paddingOuter":0},"axis":null},
"text":{"field":"t"}}}
]
}
